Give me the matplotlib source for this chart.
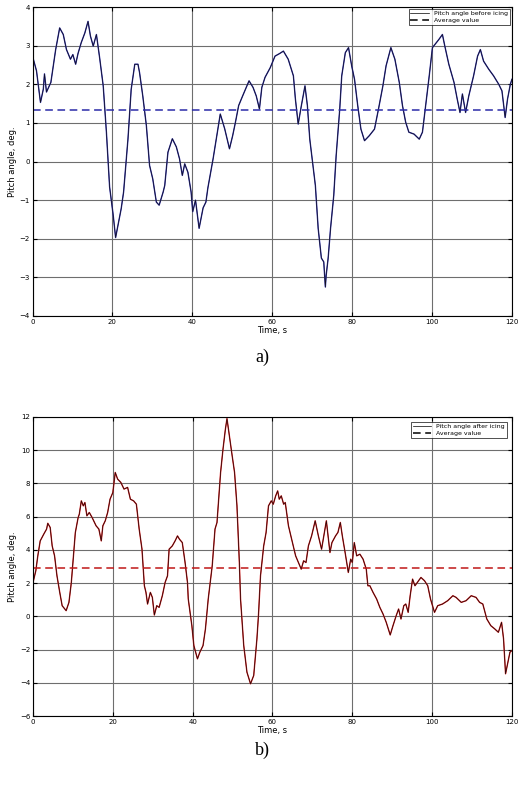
import matplotlib
matplotlib.use("Agg")
import matplotlib.pyplot as plt

# a) pitch angle before icing
t_before = [0, 1.0, 2.0, 2.7, 3.0, 3.5, 4.6, 5.2, 5.8, 6.8, 7.7, 8.5, 9.5, 10.1, 10.8, 11.4,
            12.2, 13.1, 13.9, 14.5, 15.2, 16.0, 16.8, 17.7, 18.5, 19.3, 20.2, 20.8, 21.4, 22.2,
            22.8, 23.9, 24.7, 25.6, 26.4, 26.8, 27.6, 28.5, 29.3, 30.1, 31.0, 31.7, 32.7, 33.1,
            33.9, 35.0, 36.0, 36.8, 37.5, 38.1, 38.9, 39.7, 40.1, 40.8, 41.7, 42.7, 43.4, 43.9,
            45.2, 46.0, 47.0, 48.1, 49.3, 50.1, 50.8, 51.6, 52.6, 54.2, 55.2, 56.0, 56.8, 57.4,
            58.2, 59.5, 60.7, 61.9, 62.8, 64.0, 65.3, 65.8, 66.5, 67.3, 68.2, 68.8, 69.4, 70.2,
            70.8, 71.5, 72.3, 72.9, 73.3, 73.5, 74.0, 74.6, 75.4, 76.0, 76.9, 77.4, 78.3, 79.1,
            79.9, 80.6, 81.4, 82.2, 83.1, 84.3, 85.6, 86.6, 87.7, 88.5, 89.7, 90.7, 91.8, 92.6,
            93.4, 94.2, 95.5, 96.8, 97.6, 98.4, 99.3, 100.1, 101.7, 102.6, 103.2, 104.2, 105.5,
            106.3, 107.0, 107.6, 108.4, 109.2, 110.4, 111.4, 112.1, 112.9, 114.2, 115.4, 116.7,
            117.5, 118.3, 118.9, 119.6, 120]
pitch_before = [2.73, 2.35, 1.53, 1.87, 2.27, 1.8, 2.05, 2.47, 2.9, 3.46, 3.29, 2.9, 2.65, 2.77,
                2.52, 2.8, 3.08, 3.33, 3.63, 3.25, 2.99, 3.29, 2.69, 1.96, 0.76, -0.66, -1.39,
                -1.97, -1.65, -1.22, -0.79, 0.59, 1.87, 2.52, 2.52, 2.3, 1.7, 0.93, -0.1, -0.45,
                -1.05, -1.13, -0.79, -0.62, 0.24, 0.59, 0.38, 0.07, -0.36, -0.06, -0.28, -0.79,
                -1.3, -1.0, -1.73, -1.2, -1.05, -0.68, 0.07, 0.59, 1.23, 0.85, 0.33, 0.67, 1.02,
                1.45, 1.7, 2.09, 1.92, 1.7, 1.36, 1.92, 2.18, 2.43, 2.73, 2.8, 2.86, 2.65, 2.22,
                1.62, 0.97, 1.45, 1.96, 1.45, 0.58, -0.1, -0.62, -1.73, -2.5, -2.6, -3.25, -2.95,
                -2.5, -1.73, -0.88, 0.15, 1.36, 2.22, 2.82, 2.95, 2.47, 2.13, 1.45, 0.84, 0.54,
                0.67, 0.84, 1.36, 1.96, 2.48, 2.95, 2.65, 2.05, 1.45, 1.02, 0.76, 0.71, 0.58, 0.76,
                1.45, 2.22, 2.95, 3.16, 3.29, 2.99, 2.52, 2.05, 1.62, 1.27, 1.75, 1.27, 1.7, 2.22,
                2.73, 2.9, 2.6, 2.39, 2.22, 2.0, 1.83, 1.14, 1.62, 2.0, 2.13]
avg_before = 1.33

# b) pitch angle after icing
t_after = [0, 0.7, 1.2, 1.8, 2.7, 3.4, 3.7, 4.3, 4.8, 5.4, 6.0, 6.7, 7.3, 8.3, 9.0, 9.6, 10.0,
           10.6, 11.3, 11.6, 12.1, 12.6, 13.0, 13.5, 14.1, 14.8, 15.4, 15.8, 16.5, 17.1, 17.5,
           18.1, 18.7, 19.3, 20.0, 20.6, 21.2, 22.0, 22.8, 23.7, 24.4, 25.2, 25.9, 26.6, 27.3,
           27.9, 28.3, 28.7, 29.4, 29.9, 30.4, 31.0, 31.6, 32.4, 33.1, 33.7, 34.1, 34.9, 35.6,
           36.2, 36.7, 37.4, 38.1, 38.7, 38.9, 39.8, 40.3, 41.2, 41.8, 42.6, 43.2, 43.9, 44.5,
           44.9, 45.6, 46.1, 47.0, 47.6, 48.2, 48.6, 49.2, 49.9, 50.5, 51.1, 51.7, 52.0, 52.8,
           53.6, 54.5, 55.3, 56.1, 56.5, 57.0, 57.8, 58.4, 59.0, 59.7, 60.2, 60.8, 61.3, 61.7,
           62.2, 62.8, 63.2, 64.0, 64.8, 65.8, 66.5, 67.2, 67.8, 68.4, 69.0, 69.8, 70.7, 71.5,
           72.3, 73.0, 73.5, 74.4, 74.9, 75.8, 76.4, 77.0, 77.5, 78.2, 79.0, 79.6, 80.0, 80.5,
           81.1, 81.9, 82.7, 83.5, 83.9, 84.4, 85.2, 86.1, 86.9, 87.7, 88.5, 89.5, 90.2, 91.0,
           91.6, 92.2, 92.9, 93.4, 94.0, 94.5, 95.1, 95.7, 96.3, 97.2, 98.1, 98.9, 99.6, 100.6,
           101.4, 102.6, 103.9, 105.2, 106.0, 107.3, 108.5, 109.8, 111.0, 111.9, 112.7, 113.7,
           114.7, 115.7, 116.6, 117.4, 117.9, 118.4, 119.0, 119.5, 120]
pitch_after = [2.04, 2.74, 3.64, 4.54, 4.95, 5.25, 5.6, 5.35, 4.24, 3.64, 2.44, 1.44, 0.64, 0.34,
               0.84, 2.04, 3.24, 5.04, 5.94, 6.15, 6.95, 6.65, 6.85, 6.05, 6.25, 5.95, 5.65, 5.45,
               5.25, 4.54, 5.45, 5.75, 6.25, 7.05, 7.45, 8.66, 8.26, 8.06, 7.66, 7.76, 7.05, 6.95,
               6.75, 5.25, 4.05, 1.84, 1.44, 0.74, 1.44, 1.14, 0.08, 0.64, 0.54, 1.24, 2.04, 2.44,
               4.04, 4.24, 4.54, 4.84, 4.64, 4.44, 3.24, 2.04, 1.04, -0.56, -1.76, -2.56, -2.16,
               -1.76, -0.76, 1.04, 2.24, 3.04, 5.25, 5.65, 8.66, 10.06, 11.26, 11.9, 10.86, 9.66,
               8.66, 6.65, 3.24, 1.04, -1.76, -3.36, -4.06, -3.56, -1.36, 0.1, 2.44, 4.24, 5.05,
               6.65, 6.95, 6.75, 7.25, 7.55, 7.05, 7.25, 6.75, 6.85, 5.45, 4.64, 3.64, 3.24, 2.84,
               3.34, 3.24, 4.24, 4.84, 5.75, 4.84, 4.04, 5.05, 5.75, 3.84, 4.44, 4.84, 5.05, 5.65,
               4.84, 3.84, 2.64, 3.44, 3.24, 4.44, 3.64, 3.74, 3.44, 2.84, 1.84, 1.84, 1.44, 1.04,
               0.54, 0.14, -0.36, -1.12, -0.56, 0.04, 0.44, -0.16, 0.64, 0.74, 0.24, 1.24, 2.24,
               1.84, 2.04, 2.34, 2.14, 1.84, 1.04, 0.24, 0.64, 0.74, 0.94, 1.24, 1.14, 0.84, 0.94,
               1.24, 1.14, 0.84, 0.74, -0.16, -0.56, -0.76, -0.96, -0.36, -1.36, -3.46, -2.76,
               -2.16, -2.06]
avg_after = 2.9

x_ticks = [0, 20, 40, 60, 80, 100, 120]
y_ticks_a = [-4, -3, -2, -1, 0, 1, 2, 3, 4]
y_ticks_b = [-6, -4, -2, 0, 2, 4, 6, 8, 10, 12]


def style_axes(ax, y_ticks):
    ax.set_xlim(0, 120)
    ax.set_ylim(y_ticks[0], y_ticks[-1])
    ax.set_xticks(x_ticks)
    ax.set_yticks(y_ticks)
    ax.grid(True, color="#6e6e6e", linewidth=0.8)
    ax.set_axisbelow(True)
    ax.tick_params(direction="in", length=3, labelsize=5, top=True, right=True, pad=2)
    for s in ax.spines.values():
        s.set_linewidth(0.8)
    ax.set_xlabel("Time, s", fontsize=6, labelpad=1)
    ax.set_ylabel("Pitch angle, deg.", fontsize=6, labelpad=2)


def main():
    fig = plt.figure(figsize=(5.2, 7.87), dpi=100)

    ax1 = fig.add_axes([0.0625, 0.5985, 0.922, 0.3925])
    ax1.plot(t_before, pitch_before, color="#3535b0", linewidth=1.0)
    ax1.plot(t_before, pitch_before, color="#10101c", linewidth=0.5, label="Pitch angle before icing")
    ax1.axhline(avg_before, color="#2b2ba8", linestyle="--", linewidth=1.1, dashes=(5, 3),
                label="Average value")
    style_axes(ax1, y_ticks_a)
    leg = ax1.legend(loc="upper right", fontsize=4.5, frameon=True, fancybox=False,
                     edgecolor="black", borderaxespad=0.3, handlelength=3, borderpad=0.3,
                     labelspacing=0.2)
    leg.get_frame().set_linewidth(0.6)
    for h in leg.legend_handles:
        h.set_color("black")

    ax2 = fig.add_axes([0.0635, 0.0902, 0.921, 0.380])
    ax2.plot(t_after, pitch_after, color="#e02020", linewidth=1.0)
    ax2.plot(t_after, pitch_after, color="#1a0a0a", linewidth=0.5, label="Pitch angle after icing")
    ax2.axhline(avg_after, color="#c01818", linestyle="--", linewidth=1.1, dashes=(5, 3),
                label="Average value")
    style_axes(ax2, y_ticks_b)
    leg = ax2.legend(loc="upper right", fontsize=4.5, frameon=True, fancybox=False,
                     edgecolor="black", borderaxespad=0.8, handlelength=3, borderpad=0.3,
                     labelspacing=0.2)
    leg.get_frame().set_linewidth(0.6)
    for h in leg.legend_handles:
        h.set_color("black")

    fig.text(0.505, 1 - 357 / 787, "a)", ha="center", va="center", fontsize=13,
             family="Liberation Serif")
    fig.text(0.505, 1 - 750 / 787, "b)", ha="center", va="center", fontsize=13,
             family="Liberation Serif")

    fig.savefig("out.png", dpi=100)


if __name__ == "__main__":
    main()
